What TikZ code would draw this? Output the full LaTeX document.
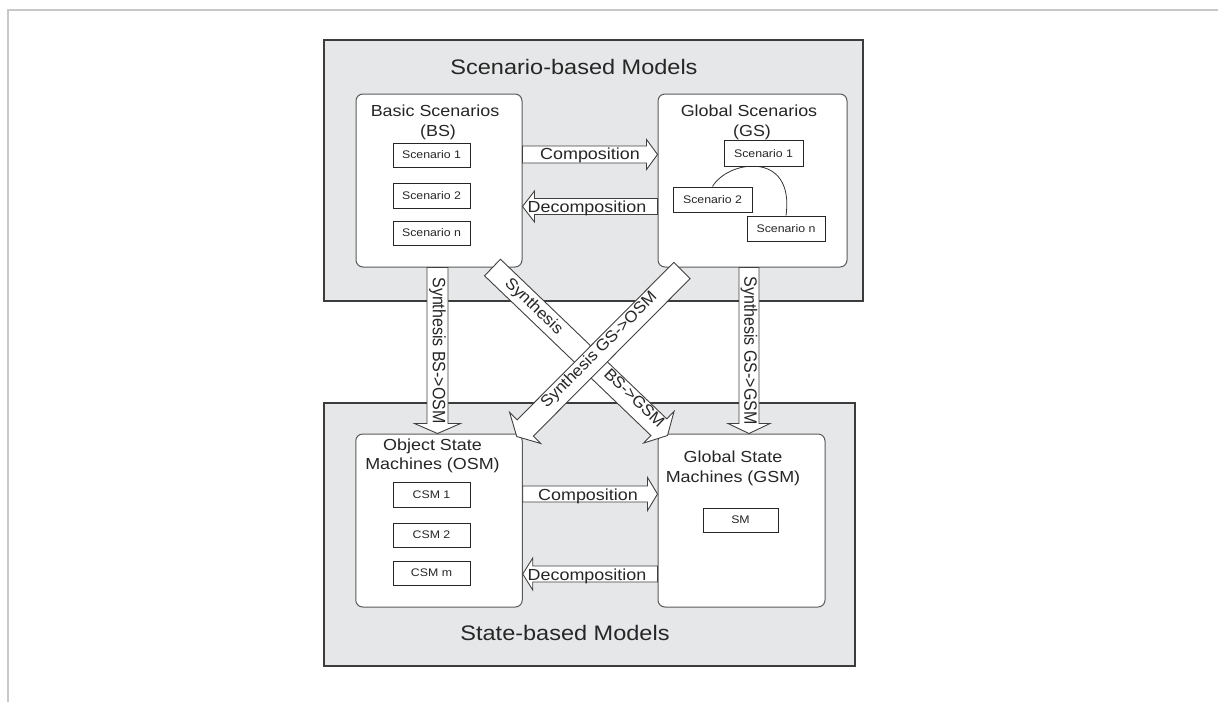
\documentclass[tikz,border=0pt]{standalone}
\usepackage{fontspec}
\setmainfont{Liberation Sans}[FakeStretch=1.12]
\newfontfamily\plainsans{Liberation Sans}
\newfontfamily\diagsans{Liberation Sans}[FakeStretch=1.06]
\usepackage{graphicx}
\usetikzlibrary{calc}
\definecolor{panelfill}{HTML}{E6E7E8}
\definecolor{paneledge}{HTML}{3C3C3C}
\definecolor{boxedge}{HTML}{5A5A5A}
\definecolor{ink}{HTML}{262626}
\definecolor{framegray}{HTML}{C8C8C8}
\tikzset{
  panel/.style={draw=paneledge, fill=panelfill, line width=1.3pt, inner sep=0pt},
  group/.style={draw=boxedge, fill=white, rounded corners=7pt, line width=1pt, inner sep=0pt},
  item/.style={draw=black!85, fill=white, line width=1pt, inner sep=0pt, text=ink,
    font=\fontsize{11}{13}\selectfont},
  fat/.style={draw=black!75, fill=white, line width=0.9pt, line join=miter},
  lbl/.style={inner sep=0pt, text=ink},
  hdr/.style={lbl, anchor=base, font=\fontsize{16}{19}\selectfont},
  ttl/.style={lbl, anchor=base, font=\fontsize{21}{25}\selectfont},
  vlab/.style={lbl, rotate=-90, font=\plainsans\fontsize{16}{19}\selectfont},
  dlab/.style={lbl, text height=11.5pt, text depth=3.5pt, font=\diagsans\fontsize{16}{19}\selectfont},
}
\newcommand{\fatarrow}[5]{%
  \coordinate (fatC) at ($(#2)!#5!(#1)$);
  \draw[fat] ($(#1)!#3!90:(#2)$) -- ($(fatC)!#3!-90:(#1)$) -- ($(fatC)!#4!-90:(#1)$)
    -- (#2) -- ($(fatC)!#4!90:(#1)$) -- ($(fatC)!#3!90:(#1)$) -- ($(#1)!#3!-90:(#2)$) -- cycle;
}
\begin{document}
\begin{tikzpicture}[x=1pt, y=-1pt]
\useasboundingbox (0,0) rectangle (1218,702);
\draw[framegray, line width=2pt] (8,702) -- (8,9.5) -- (1218,9.5);

% panels
\node[panel, minimum width=539pt, minimum height=261pt] (top) at (593.5,170.5) {};
\node[panel, minimum width=531pt, minimum height=263pt] (bottom) at (589.5,534.5) {};
\node[ttl] (toptitle) at (574,74) {Scenario-based Models};
\node[ttl] (bottitle) at (565,640) {State-based Models};

% group boxes
\node[group, minimum width=166pt, minimum height=173pt] (bs) at (439,180.5) {};
\node[group, minimum width=189pt, minimum height=173pt] (gs) at (752.5,180.5) {};
\node[group, minimum width=166.5pt, minimum height=173pt] (osm) at (439,520.5) {};
\node[group, minimum width=167pt, minimum height=173pt] (gsm) at (741.5,520.5) {};

\node[hdr] (bsh1) at (435,116) {Basic Scenarios};
\node[hdr] (bsh2) at (438,136) {(BS)};
\node[hdr] (gsh1) at (749,116) {Global Scenarios};
\node[hdr] (gsh2) at (752,136) {(GS)};
\node[hdr] (osmh1) at (432.5,450) {Object State};
\node[hdr] (osmh2) at (432.5,469) {Machines (OSM)};
\node[hdr] (gsmh1) at (733,462) {Global State};
\node[hdr] (gsmh2) at (733,482) {Machines (GSM)};

% items
\node[item, minimum width=77pt, minimum height=24pt] (bs1) at (431.5,155) {Scenario 1};
\node[item, minimum width=77pt, minimum height=25pt] (bs2) at (431.5,195.5) {Scenario 2};
\node[item, minimum width=77pt, minimum height=24pt] (bsn) at (431.5,233) {Scenario n};

\node[item, minimum width=79pt, minimum height=25pt] (gs2) at (712.5,199.5) {Scenario 2};
\node[item, minimum width=78pt, minimum height=25pt] (gsn) at (786,228.5) {Scenario n};
\draw[black!80, line width=0.8pt] (gs2.north) .. controls (728,160) and (795,150) .. (gsn.north);
\node[item, minimum width=79pt, minimum height=26pt] (gs1) at (763.5,153.5) {Scenario 1};

\node[item, minimum width=77pt, minimum height=25pt] (csm1) at (431.5,495) {CSM 1};
\node[item, minimum width=77pt, minimum height=24pt] (csm2) at (431.5,535) {CSM 2};
\node[item, minimum width=77pt, minimum height=24pt] (csmm) at (431.5,573) {CSM m};
\node[item, minimum width=75pt, minimum height=24pt] (sm) at (740.5,520) {SM};

% horizontal fat arrows
\coordinate (h1a) at (bs.east |- 0,154.5);
\coordinate (h1b) at (gs.west |- 0,154.5);
\fatarrow{h1a}{h1b}{8.5pt}{15pt}{11pt}
\node[hdr] (comp1) at (590,159.3) {Composition};

\coordinate (h2a) at (gs.west |- 0,206.5);
\coordinate (h2b) at (bs.east |- 0,206.5);
\fatarrow{h2a}{h2b}{8pt}{15.5pt}{12pt}
\node[hdr] (decomp1) at (587,212.5) {Decomposition};

\coordinate (h3a) at (osm.east |- 0,494);
\coordinate (h3b) at (gsm.west |- 0,494);
\fatarrow{h3a}{h3b}{8pt}{16.5pt}{10pt}
\node[hdr] (comp2) at (588,500) {Composition};

\coordinate (h4a) at (gsm.west |- 0,574);
\coordinate (h4b) at (osm.east |- 0,574);
\fatarrow{h4a}{h4b}{8pt}{16pt}{10pt}
\node[hdr] (decomp2) at (587,580) {Decomposition};

% vertical fat arrows
\coordinate (v1a) at (437.5,0 |- bs.south);
\coordinate (v1b) at (437.5,0 |- osm.north);
\fatarrow{v1a}{v1b}{10.5pt}{23pt}{10pt}
\node[vlab] (v1l) at ($(v1a)!0.5!(v1b)$) {\scalebox{1}[1.12]{Synthesis BS->OSM}};

\coordinate (v2a) at (749,0 |- gs.south);
\coordinate (v2b) at (749,0 |- gsm.north);
\fatarrow{v2a}{v2b}{10pt}{21pt}{10pt}
\node[vlab] (v2l) at ($(v2a)!0.5!(v2b)$) {\scalebox{1}[1.12]{Synthesis GS->GSM}};

% diagonal fat arrows
\coordinate (d1a) at (492.5,0 |- bs.south);
\coordinate (d1b) at ($(gsm.north west)+(10,2)$);
\fatarrow{d1a}{d1b}{11.5pt}{22pt}{12pt}
\node[dlab, rotate=-44] (d1l1) at ($(d1a)!0.234!(d1b)$) {Synthesis};
\node[dlab, rotate=-44] (d1l2) at ($(d1a)!0.80!(d1b)+(1,-3)$) {BS->GSM};

\coordinate (d2a) at ($(682,0 |- gs.south)+(0,3)$);
\coordinate (d2b) at ($(osm.north east)+(-6,3)$);
\fatarrow{d2a}{d2b}{11.5pt}{22pt}{12pt}
\node[dlab, rotate=45] (d2l1) at ($(d2a)!0.678!(d2b)+(0,-3)$) {Synthesis};
\node[dlab, rotate=45] (d2l2) at ($(d2a)!0.333!(d2b)+(0,-3)$) {GS->OSM};
\end{tikzpicture}
\end{document}
